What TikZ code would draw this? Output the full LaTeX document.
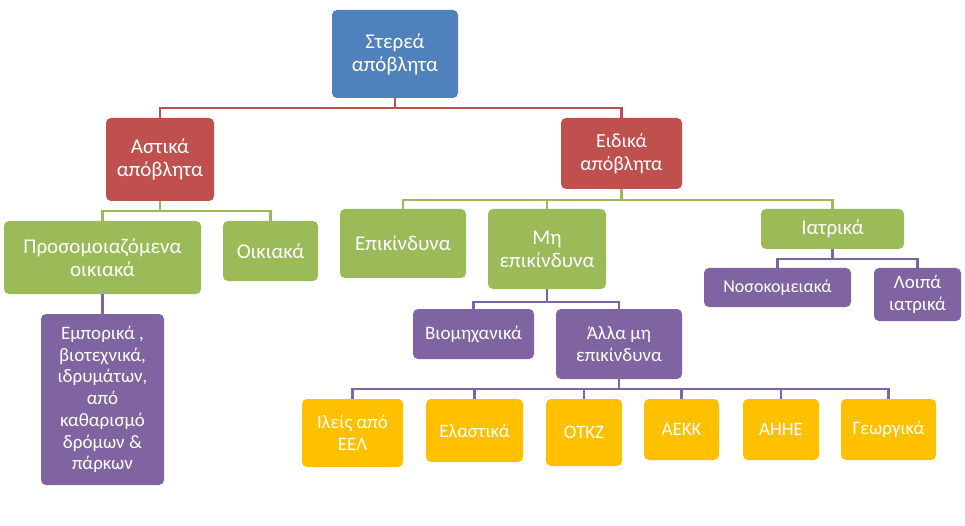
\documentclass[tikz,border=0pt]{standalone}
\usepackage{fontspec}
\setmainfont{Carlito}
\definecolor{blueC}{HTML}{4F81BD}
\definecolor{redC}{HTML}{C0504D}
\definecolor{greenC}{HTML}{9BBB59}
\definecolor{purpleC}{HTML}{8064A2}
\definecolor{yellowC}{HTML}{FFC000}
\tikzset{
  box/.style={rounded corners=5pt, text=white, align=center, inner sep=2pt,
    font=\fontsize{21}{23}\selectfont},
  small/.style={font=\fontsize{19}{21.7}\selectfont},
  link/.style={line width=2.5pt, draw=#1}
}
\begin{document}
\begin{tikzpicture}[x=1pt,y=-1pt]
  \useasboundingbox (0,0) rectangle (965,526);
  % level 0 and 1
  \node[box,fill=blueC,minimum width=126pt,minimum height=88pt] (root) at (395,54) {Στερεά\\απόβλητα};
  \node[box,fill=redC,minimum width=108pt,minimum height=83pt] (astika) at (160,159.5) {Αστικά\\απόβλητα};
  \node[box,fill=redC,minimum width=121pt,minimum height=71pt,font=\fontsize{20}{22.5}\selectfont] (eidika) at (621.5,153.5) {Ειδικά\\απόβλητα};
  % level 2
  \node[box,fill=greenC,minimum width=197pt,minimum height=73pt] (proso) at (102.5,257.5) {Προσομοιαζόμενα\\οικιακά};
  \node[box,fill=greenC,minimum width=95pt,minimum height=60pt] (oikiaka) at (270.5,251) {Οικιακά};
  \node[box,fill=greenC,minimum width=126pt,minimum height=69pt] (epik) at (403,243.5) {Επικίνδυνα};
  \node[box,fill=greenC,minimum width=118pt,minimum height=80pt] (miepik) at (547,249) {Μη\\επικίνδυνα};
  \node[box,fill=greenC,minimum width=143pt,minimum height=40pt] (iatrika) at (832.5,229) {Ιατρικά};
  % level 3
  \node[box,small,fill=purpleC,minimum width=123pt,minimum height=171pt] (emporika) at (102.5,399.5) {Εμπορικά ,\\βιοτεχνικά,\\ ιδρυμάτων,\\από\\καθαρισμό\\δρόμων \&\\πάρκων};
  \node[box,small,fill=purpleC,minimum width=121pt,minimum height=50pt] (viom) at (473.5,334) {Βιομηχανικά};
  \node[box,small,fill=purpleC,minimum width=126pt,minimum height=70pt] (alla) at (619,344) {Άλλα μη\\επικίνδυνα};
  \node[box,small,fill=purpleC,minimum width=147pt,minimum height=39pt,font=\fontsize{18}{21}\selectfont] (noso) at (777.5,287.5) {Νοσοκομειακά};
  \node[box,small,fill=purpleC,minimum width=87pt,minimum height=53pt] (loipa) at (917.5,294.5) {Λοιπά\\ιατρικά};
  % level 4
  \node[box,small,fill=yellowC,minimum width=101pt,minimum height=68pt] (ileis) at (352.5,433) {Ιλείς από\\ΕΕΛ};
  \node[box,small,fill=yellowC,minimum width=97pt,minimum height=63pt] (elast) at (474.5,430.5) {Ελαστικά};
  \node[box,small,fill=yellowC,minimum width=76pt,minimum height=67pt] (otkz) at (584,432.5) {ΟΤΚΖ};
  \node[box,small,fill=yellowC,minimum width=75pt,minimum height=61pt] (aekk) at (681.5,429.5) {ΑΕΚΚ};
  \node[box,small,fill=yellowC,minimum width=76pt,minimum height=61pt] (ahhe) at (781,429.5) {ΑΗΗΕ};
  \node[box,small,fill=yellowC,minimum width=95pt,minimum height=61pt] (georg) at (888.5,429.5) {Γεωργικά};
  % connectors
  \foreach \c in {astika,eidika}
    \draw[link=redC] (root.south) -- ++(0,10) -| (\c.north);
  \foreach \c in {proso,oikiaka}
    \draw[link=greenC] (astika.south) -- ++(0,10) -| (\c.north);
  \foreach \c in {epik,miepik,iatrika}
    \draw[link=greenC] (eidika.south) -- ++(0,11) -| (\c.north);
  \draw[link=purpleC] (proso.south) -- (emporika.north);
  \foreach \c in {viom,alla}
    \draw[link=purpleC] (miepik.south) -- ++(0,13) -| (\c.north);
  \foreach \c in {noso,loipa}
    \draw[link=purpleC] (iatrika.south) -- ++(0,10) -| (\c.north);
  \foreach \c in {ileis,elast,otkz,aekk,ahhe,georg}
    \draw[link=purpleC] (alla.south) -- ++(0,10) -| (\c.north);
\end{tikzpicture}
\end{document}
